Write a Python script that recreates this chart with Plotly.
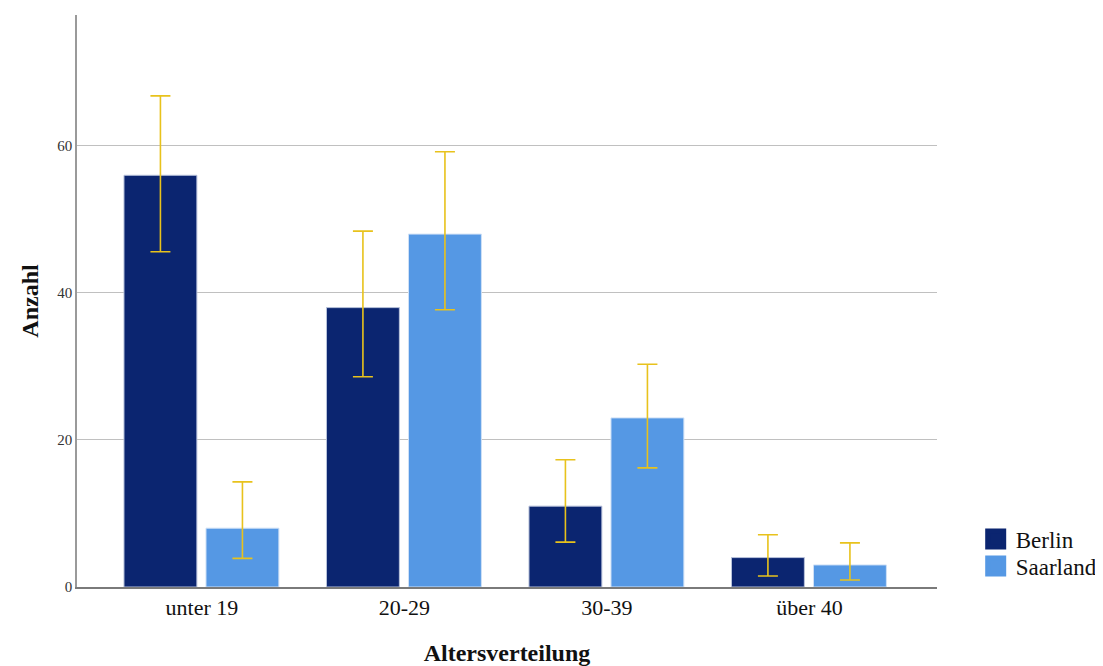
import plotly.graph_objects as go

categories = ["unter 19", "20-29", "30-39", "über 40"]
berlin = [56, 38, 11, 4]
saarland = [8, 48, 23, 3]
berlin_upper = [66.8, 48.4, 17.3, 7.1]
berlin_lower = [45.6, 28.6, 6.1, 1.5]
saarland_upper = [14.3, 59.2, 30.3, 6.0]
saarland_lower = [3.9, 37.7, 16.2, 0.95]
series_names = ["Berlin", "Saarland"]
series_colors = ["#0B2570", "#5598E4"]

FONT = "Liberation Serif, Times New Roman, serif"
ERR = "#E8C21C"

def err(vals, up, lo):
    return dict(type="data", symmetric=False,
                array=[u - v for u, v in zip(up, vals)],
                arrayminus=[v - l for v, l in zip(vals, lo)],
                color=ERR, thickness=1.6, width=10)

fig = go.Figure()
fig.add_trace(go.Bar(x=categories, y=berlin, name=series_names[0], showlegend=False,
                     marker=dict(color=series_colors[0], line=dict(color="#B9C3DC", width=1)),
                     width=0.36, offset=-0.385,
                     error_y=err(berlin, berlin_upper, berlin_lower)))
fig.add_trace(go.Bar(x=categories, y=saarland, name=series_names[1], showlegend=False,
                     marker=dict(color=series_colors[1], line=dict(color="#CFE0F6", width=1)),
                     width=0.36, offset=0.02,
                     error_y=err(saarland, saarland_upper, saarland_lower)))
for n, c, lg in zip(series_names, series_colors, ["legend", "legend2"]):
    fig.add_trace(go.Scatter(x=[None], y=[None], mode="markers", name=n, legend=lg,
                             marker=dict(symbol="square", size=16, color=c,
                                         line=dict(color=c, width=5))))

legend_font = dict(family=FONT, size=23, color="#111")
# page body has an 8px margin, so the figure is sized to fill the rest of the window
fig.update_layout(
    width=1095, height=658,
    margin=dict(l=69, r=166, t=7, b=79, autoexpand=False),
    paper_bgcolor="white", plot_bgcolor="white",
    barmode="group",
    font=dict(family=FONT, color="#222"),
    showlegend=True,
    legend=dict(x=1.045, y=0.1215, xanchor="left", yanchor="top",
                font=legend_font, itemwidth=30, bgcolor="rgba(0,0,0,0)"),
    legend2=dict(x=1.045, y=0.0743, xanchor="left", yanchor="top",
                 font=legend_font, itemwidth=30, bgcolor="rgba(0,0,0,0)"),
)
fig.update_xaxes(range=[-0.617, 3.63], showline=True, linecolor="#7a7a7a", linewidth=1.5,
                 ticks="", tickfont=dict(family=FONT, size=22, color="#111"),
                 title=dict(text="<b>Altersverteilung</b>", font=dict(family=FONT, size=24, color="#111"),
                            standoff=26),
                 showgrid=False)
fig.update_yaxes(range=[0, 77.8], tickvals=[0, 20, 40, 60], showline=True, linecolor="#9a9a9a",
                 linewidth=1.5, ticks="", gridcolor="#c0c0c0", gridwidth=1.2,
                 tickfont=dict(family=FONT, size=15, color="#333"), zeroline=False,
                 title=dict(text="<b>Anzahl</b>", font=dict(family=FONT, size=24, color="#111"),
                            standoff=12))

fig.write_html("out.html")
